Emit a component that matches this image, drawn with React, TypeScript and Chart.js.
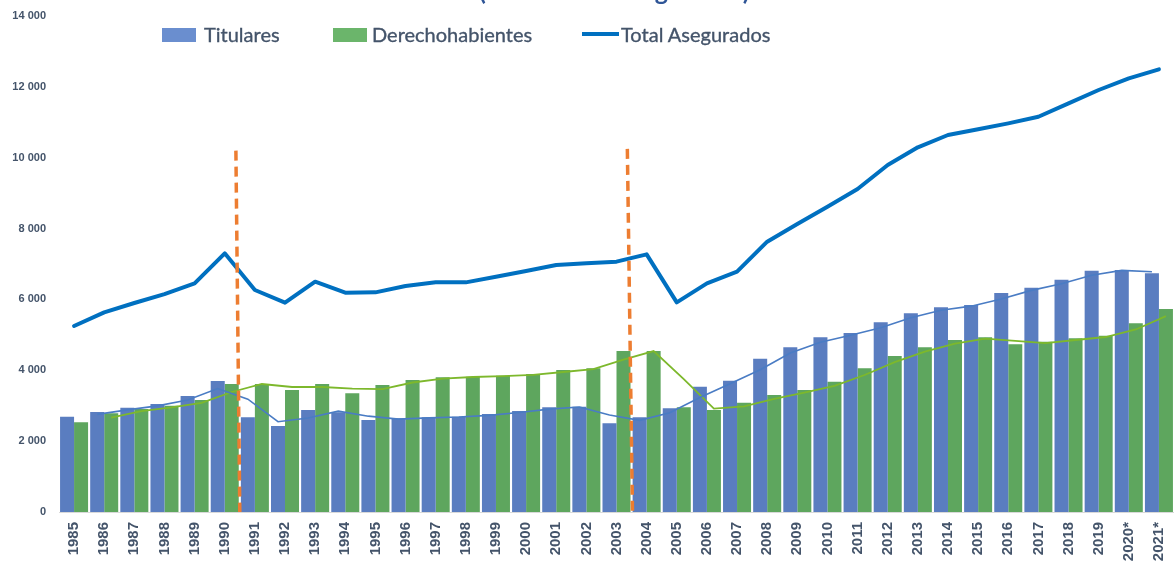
import React, { useEffect, useRef } from 'react';
import { Chart, registerables } from 'chart.js';

Chart.register(...registerables);

const years = [
  '1985', '1986', '1987', '1988', '1989', '1990', '1991', '1992', '1993', '1994',
  '1995', '1996', '1997', '1998', '1999', '2000', '2001', '2002', '2003', '2004',
  '2005', '2006', '2007', '2008', '2009', '2010', '2011', '2012', '2013', '2014',
  '2015', '2016', '2017', '2018', '2019', '2020*', '2021*',
];

const titulares = [
  2690, 2822, 2944, 3048, 3274, 3697, 2672, 2427, 2879, 2813,
  2597, 2644, 2672, 2690, 2766, 2851, 2955, 2973, 2503, 2672,
  2926, 3537, 3706, 4327, 4648, 4930, 5052, 5354, 5608, 5777,
  5843, 6181, 6331, 6557, 6811, 6830, 6736,
];

const derechohabientes = [
  2531, 2790, 2907, 3001, 3161, 3613, 3613, 3443, 3613, 3350,
  3584, 3726, 3802, 3820, 3848, 3895, 4008, 4055, 4544, 4544,
  2955, 2879, 3085, 3302, 3443, 3678, 4055, 4403, 4648, 4855,
  4930, 4732, 4807, 4902, 4977, 5326, 5730,
];

const totalAsegurados = [
  5250, 5636, 5900, 6150, 6454, 7302, 6266, 5908, 6502, 6191,
  6200, 6380, 6482, 6482, 6642, 6802, 6972, 7019, 7066, 7273,
  5918, 6454, 6783, 7630, 8130, 8617, 9116, 9794, 10293, 10641,
  10801, 10970, 11157, 11534, 11911, 12241, 12495,
];

const yTicks = [0, 2000, 4000, 6000, 8000, 10000, 12000, 14000];

// Dashed period separators (category index position at top and at the axis, top value)
const separatorTopIndex = [5.37, 18.36];
const separatorBottomIndex = [5.5, 18.53];
const separatorTopValue = [10200, 10250];

const chartTitle = '(En miles de asegurados)';

const CAT_PCT = 0.93;
const TICK_FONT = "'Liberation Sans', Arial, sans-serif";

// Excel-style 2-period moving average trendline, placed at each bar's centre
function movingAverage(values: number[], offset: number) {
  const out: { x: number; y: number }[] = [];
  for (let i = 1; i < values.length; i++) {
    out.push({ x: i + offset, y: (values[i - 1] + values[i]) / 2 });
  }
  return out;
}

const toPoints = (values: number[]) => values.map((y, i) => ({ x: i, y }));

function fmt(v: number) {
  return String(v).replace(/\B(?=(\d{3})+(?!\d))/g, ' ');
}

export default function App() {
  const canvasRef = useRef<HTMLCanvasElement | null>(null);

  useEffect(() => {
    const canvas = canvasRef.current;
    if (!canvas) return;

    const separators = separatorTopIndex.map((t, k) => ({
      type: 'line',
      label: 'sep' + k,
      data: [
        { x: t, y: separatorTopValue[k] },
        { x: separatorBottomIndex[k], y: 0 },
      ],
      borderColor: '#ED7D31',
      borderWidth: 3.5,
      borderDash: [10, 6],
      pointRadius: 0,
      fill: false,
      order: 0,
    }));

    const chart = new Chart(canvas, {
      type: 'bar',
      data: {
        datasets: [
          {
            type: 'bar',
            label: 'Titulares',
            data: toPoints(titulares),
            backgroundColor: '#5A7DC0',
            borderWidth: 0,
            categoryPercentage: CAT_PCT,
            barPercentage: 1,
            order: 10,
          },
          {
            type: 'bar',
            label: 'Derechohabientes',
            data: toPoints(derechohabientes),
            backgroundColor: '#5EA65E',
            borderWidth: 0,
            categoryPercentage: CAT_PCT,
            barPercentage: 1,
            order: 10,
          },
          {
            type: 'line',
            label: 'MA Titulares',
            data: movingAverage(titulares, -CAT_PCT / 4),
            borderColor: '#4A7CC4',
            borderWidth: 1.6,
            pointRadius: 0,
            tension: 0,
            fill: false,
            order: 5,
          },
          {
            type: 'line',
            label: 'MA Derechohabientes',
            data: movingAverage(derechohabientes, CAT_PCT / 4),
            borderColor: '#7DB82C',
            borderWidth: 1.8,
            pointRadius: 0,
            tension: 0,
            fill: false,
            order: 5,
          },
          {
            type: 'line',
            label: 'Total Asegurados',
            data: toPoints(totalAsegurados),
            borderColor: '#0070C0',
            borderWidth: 4,
            borderJoinStyle: 'round',
            borderCapStyle: 'round',
            pointRadius: 0,
            tension: 0,
            fill: false,
            order: 2,
          },
          ...separators,
        ] as any,
      },
      options: {
        responsive: false,
        animation: false,
        layout: { padding: { top: 16, left: 0, right: 0, bottom: 0 } },
        plugins: {
          legend: { display: false },
          tooltip: { enabled: false },
          title: { display: false },
        },
        scales: {
          x: {
            type: 'linear',
            offset: false,
            min: -0.5,
            max: years.length - 0.5,
            grid: { display: false, drawTicks: false, offset: false },
            border: { display: true, color: '#D9D9D9', width: 1 },
            afterBuildTicks: (s: any) => {
              s.ticks = years.map((_, i) => ({ value: i }));
            },
            ticks: {
              autoSkip: false,
              minRotation: 90,
              maxRotation: 90,
              padding: 10,
              color: '#44546A',
              font: { family: TICK_FONT, size: 15, weight: 'bold' },
              callback: (v: any) => years[Number(v)] ?? '',
            },
            afterFit: (s: any) => {
              s.height = 53;
              s.paddingLeft = 0;
              s.paddingRight = 0;
            },
          },
          y: {
            min: 0,
            max: 14000,
            grid: { display: false, drawTicks: false },
            border: { display: false },
            afterBuildTicks: (s: any) => {
              s.ticks = yTicks.map((v) => ({ value: v }));
            },
            ticks: {
              padding: 13,
              color: '#44546A',
              font: { family: TICK_FONT, size: 11, weight: 'bold' },
              callback: (v: any) => fmt(Number(v)),
            },
            afterFit: (s: any) => {
              s.width = 59;
              s.paddingTop = 0;
              s.paddingBottom = 0;
            },
          },
        } as any,
      },
    });

    return () => chart.destroy();
  }, []);

  const legendText: React.CSSProperties = {
    position: 'absolute',
    top: 24,
    fontFamily: 'Lato, sans-serif',
    fontSize: 20,
    lineHeight: '20px',
    color: '#44546A',
    whiteSpace: 'nowrap',
    WebkitTextStroke: '0.35px #44546A',
  };

  return (
    <div
      style={{
        position: 'fixed',
        left: 0,
        top: 0,
        width: 1174,
        height: 565,
        overflow: 'hidden',
        background: '#ffffff',
      }}
    >
      <canvas
        ref={canvasRef}
        width={1174}
        height={565}
        style={{ position: 'absolute', left: 0, top: 0, width: 1174, height: 565 }}
      />
      <div
        style={{
          position: 'absolute',
          left: 479,
          top: -22,
          fontFamily: 'Lato, sans-serif',
          fontWeight: 700,
          fontSize: 25,
          lineHeight: '25px',
          color: '#2F5597',
          whiteSpace: 'nowrap',
        }}
      >
        {chartTitle}
      </div>
      <div style={{ position: 'absolute', left: 162, top: 28, width: 34, height: 14, background: '#6A8ECF' }} />
      <div style={{ ...legendText, left: 204 }}>Titulares</div>
      <div style={{ position: 'absolute', left: 333, top: 28, width: 34, height: 14, background: '#6BB56B' }} />
      <div style={{ ...legendText, left: 372 }}>Derechohabientes</div>
      <div style={{ position: 'absolute', left: 582, top: 32, width: 37, height: 4, background: '#0070C0' }} />
      <div style={{ ...legendText, left: 621 }}>Total Asegurados</div>
    </div>
  );
}
